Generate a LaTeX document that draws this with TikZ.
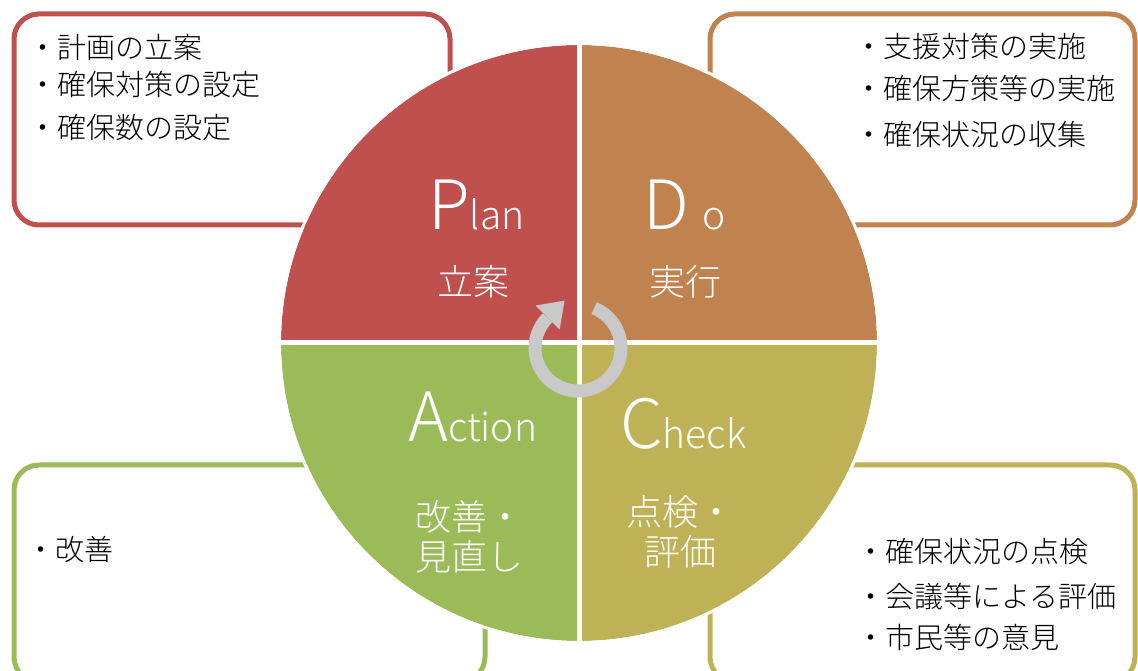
\documentclass[tikz,border=0pt]{standalone}
\usepackage{fontspec}
\setmainfont{Noto Sans CJK JP}
\newfontfamily\thinjp{Noto Sans CJK JP Light}
\definecolor{plancol}{RGB}{192,80,77}
\definecolor{docol}{RGB}{192,131,80}
\definecolor{actcol}{RGB}{155,187,89}
\definecolor{chkcol}{RGB}{191,178,86}
\definecolor{ringcol}{RGB}{201,201,201}
\newcommand{\bigfs}{\fontsize{68}{68}\selectfont}
\newcommand{\midfs}{\fontsize{39}{39}\selectfont}
\tikzset{
  memo/.style={rounded corners=25pt, line width=5pt},
  item/.style={anchor=west, inner sep=0pt, font=\thinjp\fontsize{29}{29}\selectfont},
  head/.style={anchor=base west, inner sep=0pt, text=white, font=\thinjp},
  sub/.style={inner sep=0pt, text=white, align=center, font=\thinjp\fontsize{36}{40}\selectfont},
}
\begin{document}
\begin{tikzpicture}[x=1pt,y=1pt]
\useasboundingbox (0,0) rectangle (1138,670);
% memo boxes behind the circle
\draw[memo,draw=plancol] (14,445) rectangle (450,656);
\draw[memo,draw=docol] (710,445) rectangle (1135,656);
\draw[memo,draw=actcol] (14,-12) rectangle (485,205);
\draw[memo,draw=chkcol] (710,-12) rectangle (1135,205);

% the four quarters
\coordinate (c) at (579,327);
\fill[plancol] (c) -- ++(-298,0) arc (180:90:298) -- cycle;
\fill[docol] (c) -- ++(0,298) arc (90:0:298) -- cycle;
\fill[chkcol] (c) -- ++(298,0) arc (0:-90:298) -- cycle;
\fill[actcol] (c) -- ++(0,-298) arc (270:180:298) -- cycle;
\draw[white,line width=3pt] (c) circle (299.5);
\draw[white,line width=5pt] ([xshift=-298pt]c) -- ([xshift=298pt]c);
\draw[white,line width=5pt] ([yshift=-298pt]c) -- ([yshift=298pt]c);

% cycle arrow
\coordinate (r) at (578,322);
\coordinate (tipbase) at ([shift={(135:43)}]r);
\draw[ringcol,line width=13pt] ([shift={(68:43)}]r) arc (68:-225:43);
\fill[ringcol] ([shift={(45:24)}]tipbase) -- ([shift={(135:17)}]tipbase)
  -- ([shift={(-45:17)}]tipbase) -- cycle;

% quarter titles
\node[head] (plan) at (428,440) {{\bigfs P}{\midfs lan}};
\node[head] (do) at (643,440) {{\bigfs D}\hspace{14pt}{\midfs o}};
\node[head] (act) at (408,228) {{\bigfs A}{\midfs ction}};
\node[head] (chk) at (620,222) {{\bigfs C}{\midfs heck}};
\node[sub] (plansub) at (473,388) {立案};
\node[sub] (dosub) at (685,388) {実行};
\node[sub] (actsub) at (469,133) {改善・\\見直し};
\node[sub] (chksub) at (680,138) {点検・\\評価};

% memo texts
\node[item] (p1) at (28,623) {・計画の立案};
\node[item] (p2) at (28,585) {・確保対策の設定};
\node[item] (p3) at (28,542) {・確保数の設定};
\node[item] (d1) at (854,623) {・支援対策の実施};
\node[item] (d2) at (854,582) {・確保方策等の実施};
\node[item] (d3) at (854,536) {・確保状況の収集};
\node[item] (a1) at (26,120) {・改善};
\node[item] (c1) at (856,118) {・確保状況の点検};
\node[item] (c2) at (856,73) {・会議等による評価};
\node[item] (c3) at (856,33) {・市民等の意見};
\end{tikzpicture}
\end{document}
